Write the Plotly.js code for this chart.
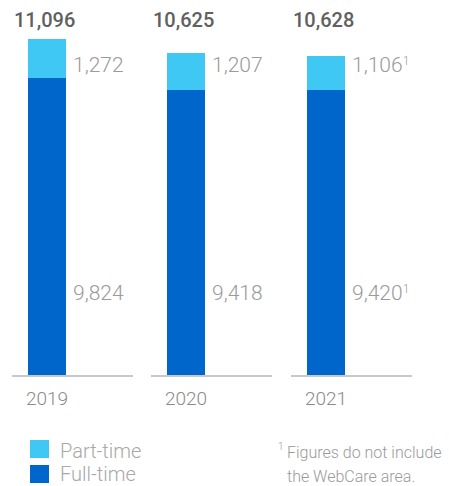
<!DOCTYPE html>
<html><head><meta charset="utf-8">
<script src="https://cdn.plot.ly/plotly-3.0.1.min.js"></script>
<style>html,body{margin:0;padding:0;background:#fff}#chart{width:449px;height:486px}</style>
</head><body><div id="chart"></div>
<script>
const years = ['2019', '2020', '2021'];
const fullTime = [9824, 9418, 9420];
const partTime = [1272, 1207, 1106];
const totals = [11096, 10625, 10628];
const noteMarks = ['', '', '1'];
const seriesNames = ['Part-time', 'Full-time'];
const footnote = ['Figures do not include', 'the WebCare area.'];

const W = 449, H = 486;
const PART = '#40c8f4', FULL = '#0066cc';
const FONT = 'Roboto, sans-serif';
const fmt = v => v.toLocaleString('en-US');
const px = v => v / W;
const py = v => 1 - v / H;
const mark = m => m ? '<span style="font-size:17px"><sup>' + m + '</sup></span>' : '';

const segs = [[12, 133], [151, 272], [291, 412]];
const traces = [];
const layout = {
  width: W, height: H, margin: {l: 0, r: 0, t: 0, b: 0},
  paper_bgcolor: '#fff', plot_bgcolor: '#fff',
  barmode: 'stack', showlegend: false, font: {family: FONT},
  yaxis: {domain: [py(375), 1], range: [0, 12384], visible: false, fixedrange: true},
  annotations: [], shapes: []
};
years.forEach((yr, i) => {
  const s = i === 0 ? '' : String(i + 1);
  traces.push({type: 'bar', x: [yr], y: [fullTime[i]], xaxis: 'x' + s, yaxis: 'y', width: 1,
    marker: {color: FULL, line: {width: 0}}, hoverinfo: 'skip', name: seriesNames[1]});
  traces.push({type: 'bar', x: [yr], y: [partTime[i]], xaxis: 'x' + s, yaxis: 'y', width: 1,
    marker: {color: PART, line: {width: 0}}, hoverinfo: 'skip', name: seriesNames[0]});
  layout['xaxis' + s] = {
    domain: [px(segs[i][0]), px(segs[i][1])], anchor: 'y', type: 'category',
    range: [-0.921, 2.263], showline: true, linecolor: '#c8c8c8', linewidth: 1.5,
    showgrid: false, zeroline: false, ticks: '', fixedrange: true,
    tickfont: {size: 19, color: '#8a8a8a', family: FONT, weight: 300}, ticklabelstandoff: 6
  };
  layout.annotations.push({xref: 'x' + s + ' domain', x: 0, xanchor: 'left', yref: 'paper', y: py(20), yanchor: 'middle',
    text: fmt(totals[i]), showarrow: false, font: {size: 20, color: '#606060', family: FONT, weight: 500}});
  layout.annotations.push({xref: 'x' + s, x: 0.5, xshift: 5, xanchor: 'left', yref: 'paper', y: py(65), yanchor: 'middle',
    text: fmt(partTime[i]) + mark(noteMarks[i]), showarrow: false, font: {size: 21, color: '#9a9a9a', family: FONT, weight: 300}});
  layout.annotations.push({xref: 'x' + s, x: 0.5, xshift: 5, xanchor: 'left', yref: 'paper', y: py(293), yanchor: 'middle',
    text: fmt(fullTime[i]) + mark(noteMarks[i]), showarrow: false, font: {size: 21, color: '#9a9a9a', family: FONT, weight: 300}});
});
// legend
[[PART, 440, 451], [FULL, 465, 474]].forEach((d, k) => {
  layout.shapes.push({type: 'rect', xref: 'paper', yref: 'paper', x0: px(30), x1: px(49), y0: py(d[1] + 18), y1: py(d[1]),
    fillcolor: d[0], line: {width: 0}});
  layout.annotations.push({xref: 'paper', yref: 'paper', x: px(58), y: py(d[2]), xanchor: 'left', yanchor: 'middle',
    text: seriesNames[k], showarrow: false, font: {size: 20, color: '#a8a8a8', family: FONT, weight: 300}});
});
// footnote
layout.annotations.push({xref: 'paper', yref: 'paper', x: px(276), y: py(446), xanchor: 'left', yanchor: 'middle',
  text: '1', showarrow: false, font: {size: 10, color: '#9a9a9a', family: FONT, weight: 300}});
footnote.forEach((t, k) => {
  layout.annotations.push({xref: 'paper', yref: 'paper', x: px(285), y: py(452 + 24 * k), xanchor: 'left', yanchor: 'middle',
    text: t, showarrow: false, font: {size: 16, color: '#9a9a9a', family: FONT, weight: 300}});
});
Plotly.newPlot('chart', traces, layout, {staticPlot: true, displayModeBar: false});
</script></body></html>
